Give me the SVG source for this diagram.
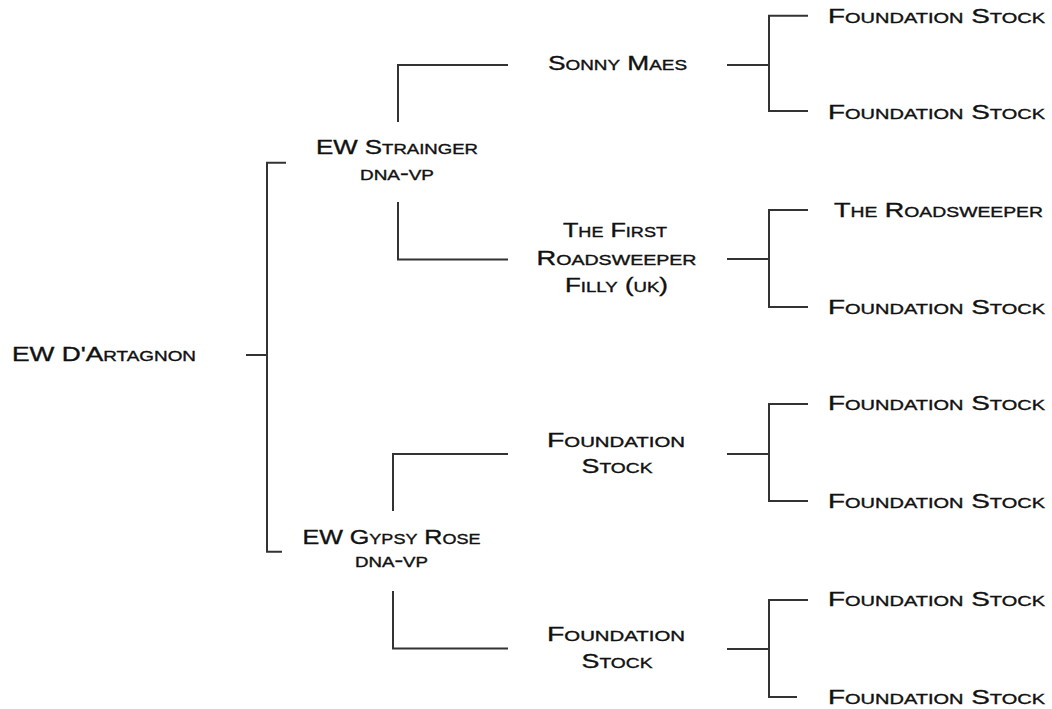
<svg xmlns="http://www.w3.org/2000/svg" width="1052" height="709" viewBox="0 0 1052 709">
<style>
  text { font-family: "Liberation Sans", Arial, sans-serif; font-size: 19.5px; font-variant: small-caps; fill: #111; stroke: #111; stroke-width: 0.35px; }
  .c { text-anchor: middle; }
  .conn path { fill: none; stroke: #333; stroke-width: 2; }
</style>
<rect width="1052" height="709" fill="#fff"/>
<g id="connectors" class="conn">
  <path d="M246,355 H267 M286,162.7 H267 V551.7 H282"/>
  <path d="M398,122 V65 H508 M398,202 V259.5 H508"/>
  <path d="M393,511 V454 H508 M393,591 V648.5 H508"/>
  <path d="M727,65 H769 M808,15.7 H769 V111 H808"/>
  <path d="M727,259 H769 M808,210 H769 V307 H808"/>
  <path d="M727,454 H769 M808,404 H769 V501 H808"/>
  <path d="M727,649 H769 M808,600 H769 V697 H797"/>
</g>
<g id="n-root"><text x="12" y="361" textLength="184" lengthAdjust="spacingAndGlyphs">EW D'Artagnon</text></g>
<g id="n-strainger">
  <text class="c" x="397" y="154" textLength="162" lengthAdjust="spacingAndGlyphs">EW Strainger</text>
  <text class="c" x="397" y="180" textLength="74" lengthAdjust="spacingAndGlyphs">dna-vp</text>
</g>
<g id="n-gypsy">
  <text class="c" x="391.5" y="544" textLength="178" lengthAdjust="spacingAndGlyphs">EW Gypsy Rose</text>
  <text class="c" x="391.5" y="567" textLength="73" lengthAdjust="spacingAndGlyphs">dna-vp</text>
</g>
<g id="n-sonny"><text class="c" x="617.5" y="70" textLength="139" lengthAdjust="spacingAndGlyphs">Sonny Maes</text></g>
<g id="n-filly">
  <text class="c" x="615" y="237" textLength="104" lengthAdjust="spacingAndGlyphs">The First</text>
  <text class="c" x="616.5" y="265" textLength="160" lengthAdjust="spacingAndGlyphs">Roadsweeper</text>
  <text class="c" x="616.5" y="292" textLength="103" lengthAdjust="spacingAndGlyphs">Filly (uk)</text>
</g>
<g id="n-fs-a">
  <text class="c" x="616" y="446.5" textLength="138" lengthAdjust="spacingAndGlyphs">Foundation</text>
  <text class="c" x="617" y="473" textLength="71" lengthAdjust="spacingAndGlyphs">Stock</text>
</g>
<g id="n-fs-b">
  <text class="c" x="616" y="641" textLength="138" lengthAdjust="spacingAndGlyphs">Foundation</text>
  <text class="c" x="617" y="667.5" textLength="71" lengthAdjust="spacingAndGlyphs">Stock</text>
</g>
<g id="n-r1"><text class="c" x="936.5" y="23" textLength="217" lengthAdjust="spacingAndGlyphs">Foundation Stock</text></g>
<g id="n-r2"><text class="c" x="936.5" y="119" textLength="217" lengthAdjust="spacingAndGlyphs">Foundation Stock</text></g>
<g id="n-r3"><text class="c" x="938.5" y="217" textLength="209" lengthAdjust="spacingAndGlyphs">The Roadsweeper</text></g>
<g id="n-r4"><text class="c" x="936.5" y="314" textLength="217" lengthAdjust="spacingAndGlyphs">Foundation Stock</text></g>
<g id="n-r5"><text class="c" x="936.5" y="410" textLength="217" lengthAdjust="spacingAndGlyphs">Foundation Stock</text></g>
<g id="n-r6"><text class="c" x="936.5" y="508" textLength="217" lengthAdjust="spacingAndGlyphs">Foundation Stock</text></g>
<g id="n-r7"><text class="c" x="936.5" y="606" textLength="217" lengthAdjust="spacingAndGlyphs">Foundation Stock</text></g>
<g id="n-r8"><text class="c" x="936.5" y="704" textLength="217" lengthAdjust="spacingAndGlyphs">Foundation Stock</text></g>
</svg>
